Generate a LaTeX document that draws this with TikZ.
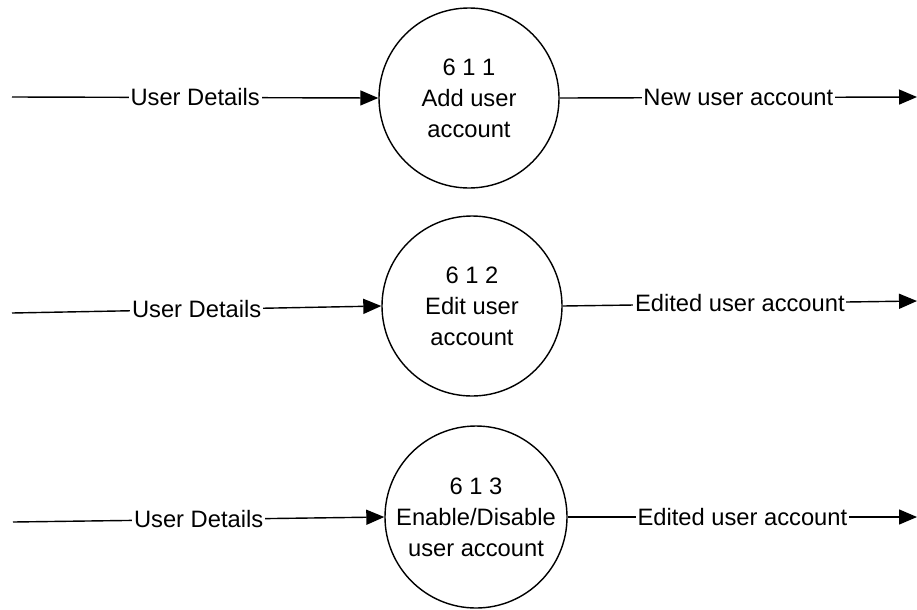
\documentclass[tikz,border=0pt]{standalone}
\usepackage{fontspec}
\setmainfont{Liberation Sans}
\usepackage{tikz}
\usetikzlibrary{
    positioning,
    arrows.meta,
    calc
}

\begin{document}
\begin{tikzpicture}[font=\fontsize{13.5}{17.6}\selectfont,
    proc/.style={draw, circle, line width=0.8pt, minimum size=3.6cm,
                 align=center, inner sep=0pt},
    flow/.style={-{Triangle[length=0.36cm, width=0.3cm]}, line width=0.8pt},
    flowlab/.style={fill=white, inner sep=1pt}]

    \useasboundingbox (0,0) rectangle (18.34,-12.18);

    % Process 6 1 1
    \node[proc] (P1) at (9.38,-1.96) {6 1 1\\Add user\\account};
    \coordinate (in1) at (0.24,-1.94);
    \coordinate (out1) at (18.34,-1.94);
    \draw[flow] (in1) -- node[flowlab] {User Details} (P1.west);
    \draw[flow] (P1.east) -- node[flowlab] {New user account} (out1);

    % Process 6 1 2
    \node[proc] (P2) at (9.44,-6.12) {6 1 2\\Edit user\\account};
    \coordinate (in2) at (0.24,-6.26);
    \coordinate (out2) at (18.34,-6.02);
    \draw[flow] (in2) -- node[flowlab] {User Details} (P2.west);
    \draw[flow] (P2.east) -- node[flowlab] {Edited user account} (out2);

    % Process 6 1 3
    \node[proc, minimum size=3.64cm] (P3) at (9.52,-10.34) {6 1 3\\Enable/Disable\\user account};
    \coordinate (in3) at (0.26,-10.44);
    \coordinate (out3) at (18.34,-10.34);
    \draw[flow] (in3) -- node[flowlab] {User Details} (P3.west);
    \draw[flow] (P3.east) -- node[flowlab] {Edited user account} (out3);

  \end{tikzpicture}
\end{document}
